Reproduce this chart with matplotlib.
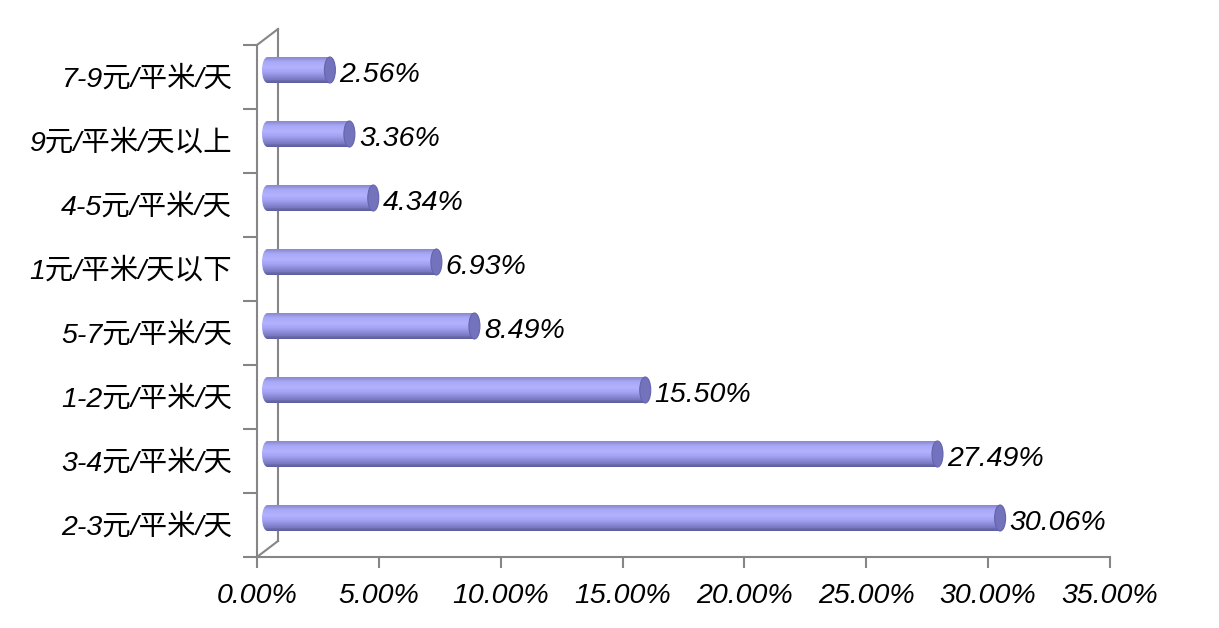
import numpy as np
import matplotlib
matplotlib.use("Agg")
import matplotlib.pyplot as plt
from matplotlib.patches import Ellipse
from matplotlib.colors import to_rgb

# data (bottom to top)
categories = ['2-3元/平米/天', '3-4元/平米/天', '1-2元/平米/天', '5-7元/平米/天',
              '1元/平米/天以下', '4-5元/平米/天', '9元/平米/天以上', '7-9元/平米/天']
values = [30.06, 27.49, 15.50, 8.49, 6.93, 4.34, 3.36, 2.56]
xticks = [0, 5, 10, 15, 20, 25, 30, 35]

fonts = ['Liberation Sans', 'Noto Sans CJK SC', 'DejaVu Sans']
grey = '#868686'
fs = 20.5

W, H = 1219, 628
fig = plt.figure(figsize=(W / 100, H / 100), dpi=100)
# front plane: x 257..1110 px, y 45..557 px
ax = fig.add_axes([257 / W, (H - 557) / H, 853 / W, 512 / H])
ax.set_xlim(0, 35)
ax.set_ylim(-0.5, 7.5)

px_x = 35 / 853.0   # data units per pixel
px_y = 8 / 512.0

# depth offsets: back wall 21px right, 16px up; bars at mid depth
dx_back, dy_back = 21 * px_x, 16 * px_y
dx_bar, dy_bar = 10.5 * px_x, 7 * px_y

# back wall + diagonals
ax.plot([dx_back, dx_back], [-0.5 + dy_back, 7.5 + dy_back], color=grey, lw=1.5,
        clip_on=False, zorder=1)
ax.plot([0, dx_back], [-0.5, -0.5 + dy_back], color=grey, lw=1.5, clip_on=False, zorder=1)
ax.plot([0, dx_back], [7.5, 7.5 + dy_back], color=grey, lw=1.5, clip_on=False, zorder=1)

# cylinder shading
stops = [0.0, 0.12, 0.35, 0.6, 0.8, 0.93, 1.0]
cols = ['#5c5c9c', '#7272bc', '#9a9aea', '#b2b2ff', '#a8a8f6', '#9494e2', '#8686d0']
rgb = np.array([to_rgb(c) for c in cols])
bar_h = 26 * px_y
n = 30
ypos = np.arange(len(values))
cap_w = 11 * px_x

for i, v in zip(ypos, values):
    yc = i + dy_bar
    left_cap = Ellipse((dx_bar, yc), cap_w, bar_h, facecolor='none', edgecolor='none')
    ax.add_patch(left_cap)
    for k in range(n):
        t = (k + 0.5) / n
        c = [np.interp(t, stops, rgb[:, j]) for j in range(3)]
        yy = yc - bar_h / 2 + t * bar_h
        ax.barh(yy, v, height=bar_h / n * 1.05, left=dx_bar,
                color=c, linewidth=0, zorder=3)
        lb = ax.barh(yy, cap_w / 2, height=bar_h / n * 1.05, left=dx_bar - cap_w / 2,
                     color=c, linewidth=0, zorder=3)
        lb[0].set_clip_path(left_cap)
    ax.add_patch(Ellipse((dx_bar + v, yc), cap_w, bar_h, facecolor='#7272bd',
                         edgecolor='#6464ac', lw=0.8, zorder=4))
    ax.text(dx_bar + v + cap_w / 2 + 4 * px_x, yc - 5 * px_y, f'{v:.2f}%', va='center',
            ha='left', fontsize=fs, style='italic', family=fonts, zorder=5)

# axes styling
for s in ['top', 'right']:
    ax.spines[s].set_visible(False)
for s in ['left', 'bottom']:
    ax.spines[s].set_color(grey)
    ax.spines[s].set_linewidth(1.5)

ax.set_xticks(xticks)
ax.set_xticklabels([f'{t:.2f}%' for t in xticks], fontsize=fs, style='italic', family=fonts)
ax.set_yticks(np.arange(-0.5, 8, 1), minor=False)
ax.set_yticklabels([])
ax.tick_params(axis='x', direction='out', length=8, width=1.5, color=grey, pad=11)
ax.tick_params(axis='y', direction='out', length=10, width=1.5, color=grey)

for i, name in enumerate(categories):
    ax.text(-25 * px_x, i - 2 * px_y, name, ha='right', va='center', fontsize=fs,
            style='italic', family=fonts, clip_on=False)

fig.savefig('out.png', dpi=100)
